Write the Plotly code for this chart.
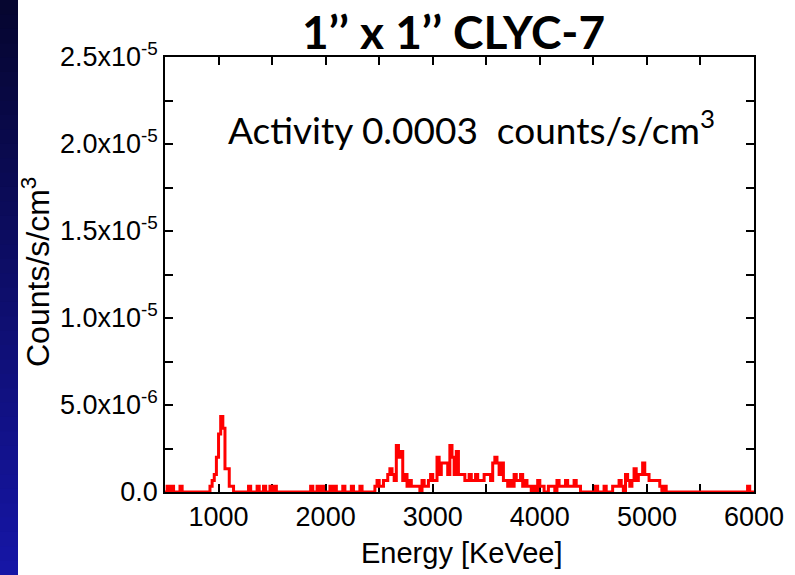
import numpy as np
import plotly.graph_objects as go

# Spectrum binning
E_MIN, E_MAX = 500, 6000
BIN_WIDTH = 20                 # keV
RATE_PER_COUNT = 1e-6 / 3      # counts/s/cm^3 for one recorded count

# Non-empty bins: left edge in keV and recorded counts
bin_edges = [
    520, 560, 640,
    920, 940, 960, 980, 1000, 1020, 1040, 1060, 1080, 1100, 1120,
    1280, 1360, 1420, 1480, 1520,
    1860, 1920, 1960, 2040, 2080, 2160, 2240, 2320,
    2460, 2480, 2500, 2520, 2540, 2560, 2580, 2600, 2620, 2640, 2660, 2680,
    2700, 2720, 2740, 2760, 2780, 2800, 2820, 2840, 2860, 2900, 2920, 2940,
    2960, 2980, 3000, 3020, 3040, 3060, 3080, 3100, 3120, 3140, 3160, 3180,
    3200, 3220, 3240, 3260, 3280, 3300, 3320, 3340, 3360, 3380, 3400, 3420,
    3440, 3460, 3480, 3500, 3520, 3540, 3560, 3580, 3600, 3620, 3640, 3660,
    3680, 3700, 3720, 3740, 3760, 3780, 3800, 3820, 3840, 3860, 3880, 3900,
    3940, 3980, 4000, 4020, 4080, 4100, 4120, 4160, 4180, 4200, 4220, 4240,
    4260, 4280, 4300, 4320, 4340, 4360, 4520, 4600,
    4680, 4700, 4720, 4740, 4760, 4800, 4820, 4840, 4860, 4880, 4900, 4920,
    4940, 4960, 4980, 5000, 5020, 5040, 5060, 5080, 5100, 5120, 5160, 5940,
]
bin_counts = [
    1, 1, 1,
    1, 2, 3, 6, 10, 13, 11, 4, 4, 1, 1,
    1, 1, 1, 1, 1,
    1, 1, 1, 1, 1, 1, 1, 1,
    1, 2, 1, 1, 2, 2, 3, 4, 3, 2, 8, 6,
    7, 2, 3, 1, 2, 1, 1, 1, 1, 2, 1, 1,
    2, 3, 2, 2, 6, 3, 5, 5, 5, 3, 8, 6,
    3, 7, 3, 3, 3, 2, 2, 3, 2, 2, 3, 2,
    2, 2, 3, 3, 3, 2, 5, 6, 5, 3, 5, 2,
    2, 1, 2, 1, 3, 2, 2, 3, 1, 2, 1, 1,
    1, 2, 1, 1, 1, 1, 1, 2, 1, 1, 1, 2,
    1, 1, 1, 2, 1, 1, 1, 1,
    1, 1, 1, 2, 1, 3, 2, 1, 2, 4, 2, 3,
    3, 5, 3, 3, 2, 2, 2, 2, 2, 1, 1, 1,
]

# Axis ticks
x_tick_vals = list(range(500, 6001, 500))
x_tick_text = ["" if v % 1000 else str(v) for v in x_tick_vals]
y_tick_vals = [0, 2.5e-6, 5e-6, 7.5e-6, 1e-5, 1.25e-5, 1.5e-5, 1.75e-5, 2e-5, 2.25e-5, 2.5e-5]
y_tick_text = ["0.0", "", "5.0x10<sup>-6</sup>", "", "1.0x10<sup>-5</sup>", "",
               "1.5x10<sup>-5</sup>", "", "2.0x10<sup>-5</sup>", "", "2.5x10<sup>-5</sup>"]

# Full histogram on the regular bin grid
edges = np.arange(E_MIN, E_MAX + BIN_WIDTH, BIN_WIDTH)
rates = np.zeros(len(edges))
for e, c in zip(bin_edges, bin_counts):
    rates[(e - E_MIN) // BIN_WIDTH] = c * RATE_PER_COUNT

W, H = 795, 575
ML, MR, MT, MB = 165, 41, 57, 83
PW, PH = W - ML - MR, H - MT - MB


def px_x(px):
    return (px - ML) / PW


def px_y(py):
    return (H - MB - py) / PH


fig = go.Figure()
fig.add_trace(go.Scatter(
    x=edges, y=rates, mode="lines", line_shape="hv",
    line=dict(color="#ff0000", width=3), showlegend=False, hoverinfo="skip",
))

SANS = "Liberation Sans, Arial, sans-serif"
axis_common = dict(
    showline=True, linecolor="black", linewidth=1.5, mirror="allticks",
    ticks="inside", ticklen=8, tickwidth=1.5, tickcolor="black",
    showgrid=False, zeroline=False, layer="below traces",
    tickfont=dict(family=SANS, size=27, color="black"),
)

fig.update_layout(
    width=W, height=H,
    margin=dict(l=ML, r=MR, t=MT, b=MB),
    paper_bgcolor="white", plot_bgcolor="white",
    xaxis=dict(range=[E_MIN, E_MAX], tickmode="array", tickvals=x_tick_vals,
               ticktext=x_tick_text, **axis_common),
    yaxis=dict(range=[0, 2.5e-5], tickmode="array", tickvals=y_tick_vals,
               ticktext=y_tick_text, **axis_common),
)

# Dark blue slide edge on the left
n_bands = 40
top_rgb = np.array([6, 6, 48])
bot_rgb = np.array([22, 22, 165])
for i in range(n_bands):
    f = i / (n_bands - 1)
    r, g, b = (top_rgb + (bot_rgb - top_rgb) * f).astype(int)
    y0 = i * H / n_bands
    y1 = (i + 1) * H / n_bands + 1
    fig.add_shape(type="rect", xref="paper", yref="paper",
                  x0=px_x(0), x1=px_x(18), y0=px_y(y1), y1=px_y(y0),
                  fillcolor=f"rgb({r},{g},{b})", line_width=0, layer="below")


def label(text, cx, cy, family, size, angle=0):
    fig.add_annotation(text=text, xref="paper", yref="paper",
                       x=px_x(cx), y=px_y(cy), xanchor="center", yanchor="middle",
                       showarrow=False, textangle=angle,
                       font=dict(family=family, size=size, color="black"))


label("<b>1’’ x 1’’ CLYC-7</b>", 453, 31, "Lato, sans-serif", 46)
label("Activity 0.0003  counts/s/cm<sup>3</sup>", 471, 127, "Lato, sans-serif", 37)
label("Energy [KeVee]", 462, 553, SANS, 29)
label("Counts/s/cm<sup>3</sup>", 36, 272, SANS, 32, angle=-90)

fig.write_html("out.html")
